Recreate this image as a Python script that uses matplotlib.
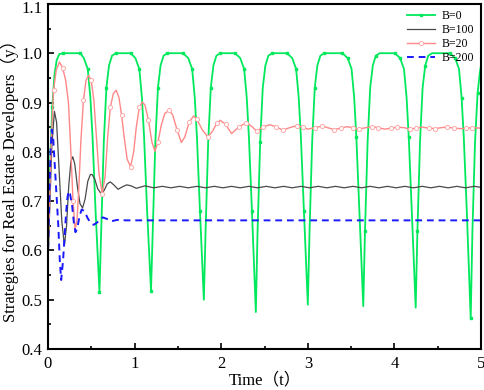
import numpy as np
import matplotlib
matplotlib.use("Agg")
import matplotlib.pyplot as plt
from matplotlib.ticker import MultipleLocator
from matplotlib.transforms import ScaledTranslation

# B=0 (green): rise, plateau at 1.0, fall, dip
t_b0 = [0, 0.015, 0.03, 0.05, 0.075, 0.10, 0.13, 0.17, 0.375, 0.415, 0.46, 0.49, 0.515, 0.55, 0.595,
        0.615, 0.645, 0.675, 0.705, 0.74, 0.785, 0.955, 1.01, 1.055, 1.085, 1.11, 1.145, 1.19,
        1.21, 1.24, 1.27, 1.30, 1.335, 1.38, 1.56, 1.62, 1.665, 1.695, 1.72, 1.755, 1.80,
        1.82, 1.85, 1.88, 1.91, 1.945, 1.99, 2.16, 2.22, 2.265, 2.295, 2.32, 2.355, 2.40,
        2.42, 2.45, 2.48, 2.51, 2.545, 2.59, 2.76, 2.82, 2.865, 2.895, 2.92, 2.955, 3.00,
        3.02, 3.05, 3.08, 3.11, 3.145, 3.19, 3.40, 3.46, 3.505, 3.535, 3.56, 3.595, 3.64,
        3.66, 3.69, 3.72, 3.75, 3.785, 3.83, 4.005, 4.065, 4.11, 4.14, 4.165, 4.20, 4.245,
        4.265, 4.295, 4.325, 4.355, 4.39, 4.435, 4.64, 4.70, 4.745, 4.775, 4.80, 4.835, 4.88,
        4.90, 4.93, 4.96, 4.985, 5.0]
y_b0 = [0.58, 0.70, 0.80, 0.89, 0.955, 0.985, 0.998, 1.0, 1.0, 0.99, 0.968, 0.91, 0.83, 0.68, 0.516,
        0.64, 0.82, 0.93, 0.975, 0.995, 1.0, 1.0, 0.99, 0.968, 0.91, 0.83, 0.68, 0.518,
        0.64, 0.82, 0.93, 0.975, 0.995, 1.0, 1.0, 0.99, 0.968, 0.91, 0.83, 0.68, 0.50,
        0.64, 0.82, 0.93, 0.975, 0.995, 1.0, 1.0, 0.99, 0.968, 0.91, 0.83, 0.68, 0.475,
        0.64, 0.82, 0.93, 0.975, 0.995, 1.0, 1.0, 0.99, 0.968, 0.91, 0.83, 0.68, 0.49,
        0.64, 0.82, 0.93, 0.975, 0.995, 1.0, 1.0, 0.99, 0.968, 0.91, 0.83, 0.68, 0.487,
        0.64, 0.82, 0.93, 0.975, 0.995, 1.0, 1.0, 0.99, 0.968, 0.91, 0.83, 0.68, 0.484,
        0.64, 0.82, 0.93, 0.975, 0.995, 1.0, 1.0, 0.99, 0.968, 0.91, 0.83, 0.68, 0.462,
        0.64, 0.82, 0.92, 0.96, 0.977]

# B=100 (grey)
t_b100 = [0, 0.02, 0.045, 0.075, 0.10, 0.13, 0.16, 0.19, 0.215, 0.24, 0.265, 0.287, 0.31, 0.34,
          0.37, 0.40, 0.43, 0.46, 0.49, 0.51, 0.54, 0.575, 0.615, 0.65, 0.685, 0.72, 0.76, 0.81,
          0.86, 0.91, 0.96, 1.02, 1.12, 1.22, 1.32, 1.42, 1.52, 1.62, 1.72, 1.82, 1.92, 2.02,
          2.12, 2.22, 2.32, 2.42, 2.52, 2.62, 2.72, 2.82, 2.92, 3.02, 3.12, 3.22, 3.32, 3.42,
          3.52, 3.62, 3.72, 3.82, 3.92, 4.02, 4.12, 4.22, 4.32, 4.42, 4.52, 4.62, 4.72, 4.82,
          4.92, 5.0]
y_b100 = [0.58, 0.68, 0.81, 0.882, 0.86, 0.76, 0.66, 0.61, 0.65, 0.73, 0.78, 0.79, 0.775, 0.73,
          0.695, 0.686, 0.705, 0.74, 0.754, 0.754, 0.745, 0.725, 0.715, 0.722, 0.735, 0.739, 0.733, 0.724,
          0.729, 0.733, 0.731, 0.726, 0.731, 0.727, 0.730, 0.727, 0.730, 0.727, 0.730, 0.727, 0.730, 0.727,
          0.730, 0.727, 0.730, 0.727, 0.730, 0.727, 0.730, 0.727, 0.730, 0.727, 0.730, 0.727, 0.730, 0.727,
          0.730, 0.727, 0.730, 0.727, 0.730, 0.727, 0.730, 0.727, 0.730, 0.727, 0.730, 0.727, 0.730, 0.727,
          0.730, 0.728]

# B=20 (light red)
t_b20 = [0, 0.02, 0.04, 0.065, 0.095, 0.133, 0.17, 0.205, 0.237, 0.265, 0.29, 0.314, 0.335, 0.355,
         0.38, 0.41, 0.44, 0.47, 0.50, 0.53, 0.56, 0.59, 0.627, 0.66, 0.69, 0.72, 0.755, 0.788,
         0.82, 0.85, 0.88, 0.915, 0.954, 0.99, 1.02, 1.055, 1.089, 1.12, 1.16, 1.20, 1.235, 1.27,
         1.31, 1.35, 1.397, 1.44, 1.49, 1.54, 1.58, 1.63, 1.682, 1.72, 1.78, 1.847, 1.90, 1.95,
         1.99, 2.05, 2.12, 2.20, 2.29, 2.35, 2.41, 2.48, 2.56, 2.63, 2.71, 2.79, 2.87, 2.94,
         3.0, 3.08, 3.16, 3.23, 3.30, 3.38, 3.45, 3.52, 3.59, 3.67, 3.74, 3.81, 3.89, 3.96,
         4.03, 4.11, 4.18, 4.25, 4.32, 4.40, 4.47, 4.54, 4.61, 4.69, 4.76, 4.83, 4.90, 5.0]
y_b20 = [0.58, 0.70, 0.83, 0.925, 0.965, 0.982, 0.97, 0.945, 0.90, 0.80, 0.70, 0.643, 0.66, 0.72,
         0.82, 0.905, 0.945, 0.955, 0.945, 0.905, 0.83, 0.755, 0.715, 0.75, 0.83, 0.89, 0.918, 0.925,
         0.91, 0.875, 0.83, 0.785, 0.77, 0.80, 0.85, 0.89, 0.901, 0.895, 0.865, 0.82, 0.801, 0.82,
         0.855, 0.878, 0.884, 0.875, 0.845, 0.819, 0.83, 0.86, 0.873, 0.866, 0.845, 0.830, 0.842, 0.858,
         0.864, 0.856, 0.837, 0.85, 0.859, 0.852, 0.842, 0.85, 0.855, 0.851, 0.844, 0.849, 0.853, 0.85,
         0.846, 0.849, 0.852, 0.849, 0.845, 0.848, 0.851, 0.849, 0.846, 0.849, 0.851, 0.849, 0.846, 0.848,
         0.850, 0.849, 0.846, 0.848, 0.850, 0.848, 0.847, 0.849, 0.850, 0.848, 0.847, 0.848, 0.849, 0.848]

# B=200 (blue dashed)
t_b200 = [0, 0.015, 0.03, 0.044, 0.06, 0.08, 0.10, 0.12, 0.137, 0.153, 0.175, 0.20, 0.22, 0.237,
          0.255, 0.28, 0.30, 0.318, 0.34, 0.365, 0.39, 0.42, 0.46, 0.50, 0.53, 0.57, 0.60, 0.634,
          0.68, 0.73, 0.80, 0.90, 1.0, 1.5, 2.0, 2.5, 3.0, 3.5, 4.0, 4.5, 5.0]
y_b200 = [0.58, 0.70, 0.80, 0.845, 0.83, 0.77, 0.71, 0.65, 0.58, 0.54, 0.58, 0.65, 0.70, 0.72,
          0.715, 0.69, 0.655, 0.637, 0.645, 0.67, 0.683, 0.68, 0.665, 0.654, 0.652, 0.657, 0.663, 0.667,
          0.664, 0.659, 0.662, 0.661, 0.661, 0.661, 0.661, 0.661, 0.661, 0.661, 0.661, 0.661, 0.661]

fam = ['Liberation Serif', 'Noto Sans CJK SC']

fig = plt.figure(figsize=(4.84, 3.90), dpi=100)
ax = fig.add_axes([0.099, 0.105, 0.895, 0.885])

# markers roughly evenly spaced in time, like the original export
def every(t, step):
    t = np.asarray(t)
    return sorted(set(np.searchsorted(t, np.arange(step / 2, 5, step)).clip(0, len(t) - 1)))

ax.plot(t_b0, y_b0, color='#00e85c', lw=1.3, marker='s', ms=1.6, markevery=every(t_b0, 0.1),
        label='B=0')
ax.plot(t_b100, y_b100, color='#4a4a4a', lw=0.9, label='B=100')
ax.plot(t_b20, y_b20, color='#ff8888', lw=1.0, marker='o', ms=3, mfc='white', mec='#ffaaaa',
        mew=0.7, markevery=every(t_b20, 0.11), label='B=20')
ax.plot(t_b200, y_b200, color='#1a1aff', lw=1.4, ls=(0, (3.5, 2.5)), label='B=200')

ax.set_xlim(0, 5)
ax.set_ylim(0.4, 1.1)
ax.set_yticks([0.4, 0.5, 0.6, 0.7, 0.8, 0.9, 1.0, 1.1])
ax.set_yticklabels(['0.4', '0.5', '0.6', '0.7', '0.8', '0.9', '1.0', '1.1'])
ax.xaxis.set_major_locator(MultipleLocator(1))
ax.xaxis.set_minor_locator(MultipleLocator(0.5))
ax.yaxis.set_minor_locator(MultipleLocator(0.05))
ax.tick_params(which='both', direction='in', top=False, right=False, width=1.2)
ax.tick_params(which='major', length=4, labelsize=12)
ax.tick_params(axis='x', which='major', pad=5)
ax.tick_params(axis='y', which='major', pad=4)
ax.tick_params(which='minor', length=2)
for lab in ax.get_xticklabels() + ax.get_yticklabels():
    lab.set_family(fam)
# the top label sits at the figure edge; nudge it down so it stays whole
top = ax.get_yticklabels()[-1]
top.set_transform(top.get_transform() + ScaledTranslation(0, -2 / 72, fig.dpi_scale_trans))
for s in ax.spines.values():
    s.set_linewidth(1.5)

ax.set_xlabel('Time（t）', family=fam, fontsize=12, labelpad=0)
ax.set_ylabel('Strategies for Real Estate Developers（y）', family=fam, fontsize=12, labelpad=2)

ax.legend(loc='upper right', frameon=False, prop={'family': fam, 'size': 8.5},
          handlelength=2.4, labelspacing=0.15, borderaxespad=0.15, handletextpad=0.6)

fig.savefig('out.png', dpi=100)
